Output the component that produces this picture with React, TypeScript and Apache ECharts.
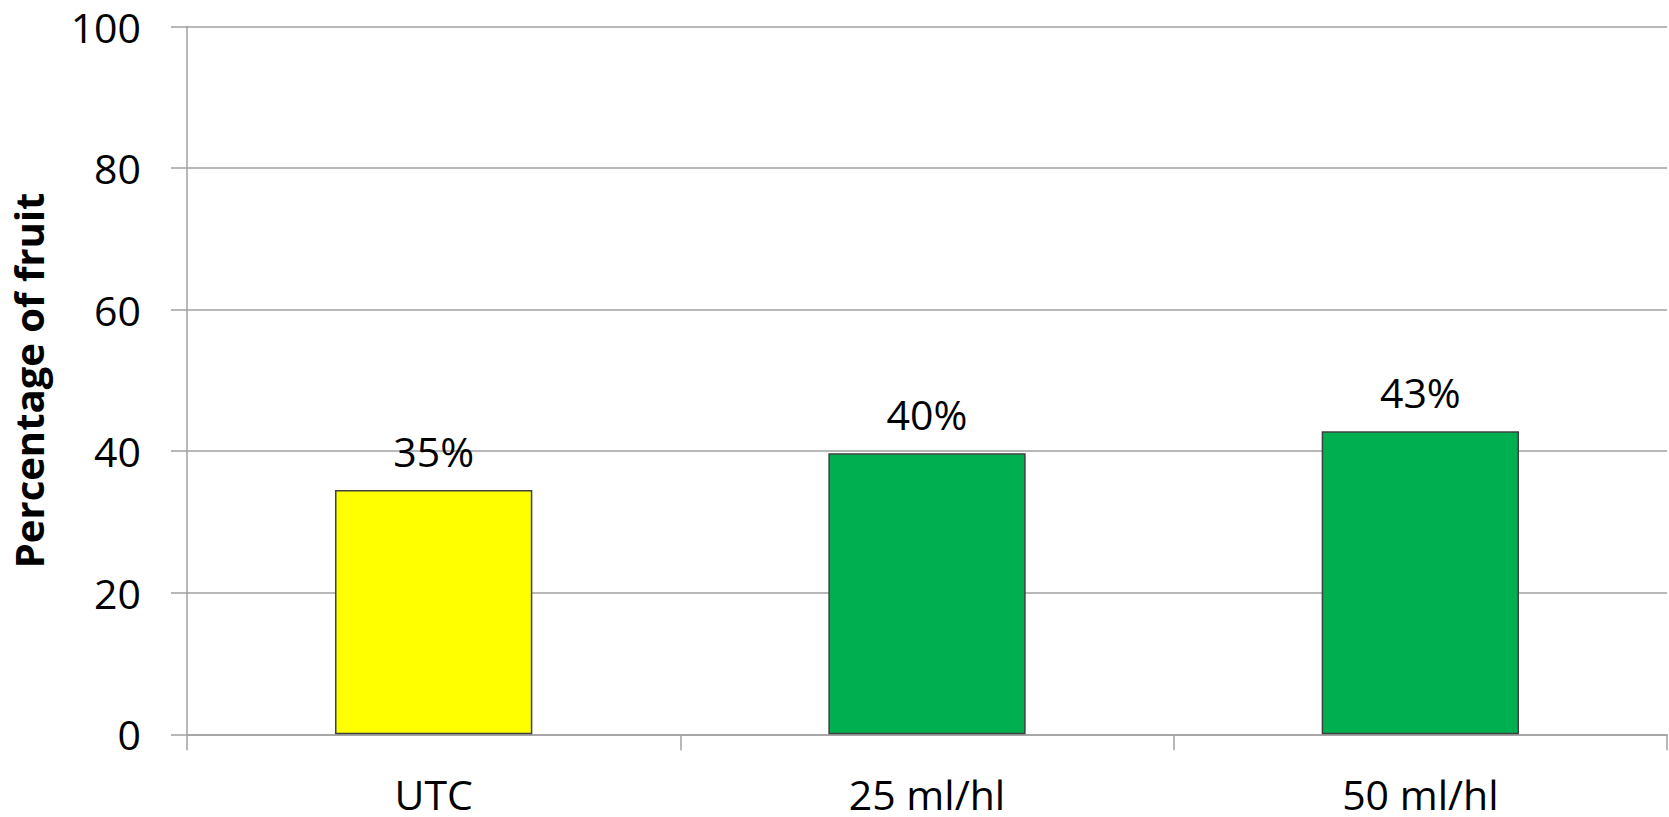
import React, { useEffect, useRef } from "react";
import * as echarts from "echarts";

const categories = ["UTC", "25 ml/hl", "50 ml/hl"];
const values = [34.5, 39.7, 42.8];
const labelTexts = ["35%", "40%", "43%"];
const barColors = ["#FFFF00", "#00B050", "#00B050"];
const yTicks = [0, 20, 40, 60, 80, 100];
const yAxisTitle = "Percentage of fruit";

const FONT = "'Open Sans', 'Noto Sans', sans-serif";

export default function App() {
  const ref = useRef<HTMLDivElement>(null);
  useEffect(() => {
    if (!ref.current) return;
    const chart = echarts.init(ref.current, null, { renderer: "svg" });
    chart.setOption({
      animation: false,
      backgroundColor: "#ffffff",
      grid: { left: 184, right: 2, top: 26.5, bottom: 82.7, containLabel: false },
      xAxis: {
        type: "category",
        data: categories,
        axisLine: { show: true, lineStyle: { color: "#a0a0a0", width: 1.5 } },
        axisTick: { show: true, length: 16, lineStyle: { color: "#a0a0a0", width: 1.5 } },
        axisLabel: { color: "#000", fontSize: 41, lineHeight: 30, fontFamily: FONT, margin: 45 },
        splitLine: { show: false },
      },
      yAxis: {
        type: "value",
        min: yTicks[0],
        max: yTicks[yTicks.length - 1],
        interval: yTicks[1] - yTicks[0],
        name: yAxisTitle,
        nameLocation: "middle",
        nameGap: 139,
        nameTextStyle: { color: "#000", fontSize: 40, fontWeight: "bold", fontFamily: FONT },
        axisLine: { show: true, lineStyle: { color: "#a0a0a0", width: 1.5 } },
        axisTick: { show: true, length: 16, lineStyle: { color: "#a0a0a0", width: 1.5 } },
        axisLabel: { color: "#000", fontSize: 41, fontFamily: FONT, margin: 46 },
        splitLine: { show: true, lineStyle: { color: "#a0a0a0", width: 1.5 } },
      },
      series: [
        {
          type: "bar",
          barWidth: "40%",
          data: values.map((v, i) => ({
            value: v,
            itemStyle: { color: barColors[i], borderColor: "#404040", borderWidth: 1.5 },
          })),
          label: {
            show: true,
            position: "top",
            distance: 19,
            color: "#000",
            fontSize: 41,
            fontFamily: FONT,
            formatter: (p: any) => labelTexts[p.dataIndex],
          },
        },
      ],
    });
    return () => chart.dispose();
  }, []);
  return (
    <div
      ref={ref}
      style={{ position: "fixed", left: 0, top: 0, width: 1669, height: 817 }}
    />
  );
}
